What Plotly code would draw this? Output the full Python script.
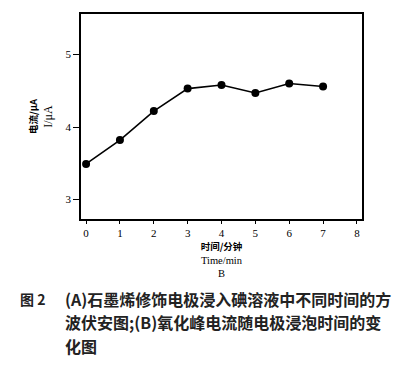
import plotly.graph_objects as go

time_min = [0, 1, 2, 3, 4, 5, 6, 7]
current_uA = [3.49, 3.82, 4.22, 4.53, 4.58, 4.47, 4.60, 4.56]
x_ticks = [0, 1, 2, 3, 4, 5, 6, 7, 8]
y_ticks = [3, 4, 5]

caption_lines = [
    "(A)石墨烯修饰电极浸入碘溶液中不同时间的方",
    "波伏安图;(B)氧化峰电流随电极浸泡时间的变",
    "化图",
]

serif = "Liberation Serif, DejaVu Serif, serif"
cjk = "Noto Sans CJK SC, sans-serif"

fig = go.Figure()
fig.add_trace(go.Scatter(
    x=time_min, y=current_uA, mode="lines+markers",
    line=dict(color="black", width=1.6),
    marker=dict(color="black", size=8, symbol="circle"),
    showlegend=False,
))

fig.update_layout(
    width=403, height=366,
    margin=dict(l=81, r=41, t=12, b=147),
    paper_bgcolor="white", plot_bgcolor="white",
    font=dict(family=serif, color="black", size=10),
)
cjk_span = "<span style='font-family:Noto Sans CJK SC;font-size:9.5px;font-weight:bold'>"
fig.update_xaxes(
    range=[-0.15, 8.15], tickvals=x_ticks, ticktext=[str(v) for v in x_ticks],
    showline=True, linecolor="black", linewidth=1.5, mirror=True,
    ticks="outside", ticklen=3, tickwidth=1.2, tickcolor="black",
    showgrid=False, zeroline=False,
    tickfont=dict(family=serif, size=11),
    title=dict(text=cjk_span + "时间/分钟</span><br>Time/min<br>B",
               font=dict(family=serif, size=10.5), standoff=3),
)
fig.update_yaxes(
    range=[2.73, 5.56], tickvals=y_ticks, ticktext=[str(v) for v in y_ticks],
    showline=True, linecolor="black", linewidth=1.5, mirror=True,
    ticks="outside", ticklen=6, tickwidth=1.2, tickcolor="black",
    showgrid=False, zeroline=False,
    tickfont=dict(family=serif, size=11),
    title=dict(text=cjk_span + "电流/μA</span><br>I/μA",
               font=dict(family=serif, size=12), standoff=10),
)

def px_x(px):
    return (px - 81) / 281.0

def px_y(py):
    return (219 - py) / 207.0

fig.add_annotation(
    text="<b>图 2</b>", x=px_x(18), y=px_y(300), xref="paper", yref="paper",
    xanchor="left", yanchor="middle", showarrow=False,
    font=dict(family=cjk, size=14, color="#222"),
)
line_y = [300, 323, 347]
for txt, py in zip(caption_lines, line_y):
    fig.add_annotation(
        text="<b>" + txt + "</b>", x=px_x(63), y=px_y(py), xref="paper", yref="paper",
        xanchor="left", yanchor="middle", showarrow=False,
        font=dict(family=cjk, size=16, color="#222"),
    )

fig.write_html("out.html", config={"displayModeBar": False},
               post_script="document.body.style.margin='0';")
